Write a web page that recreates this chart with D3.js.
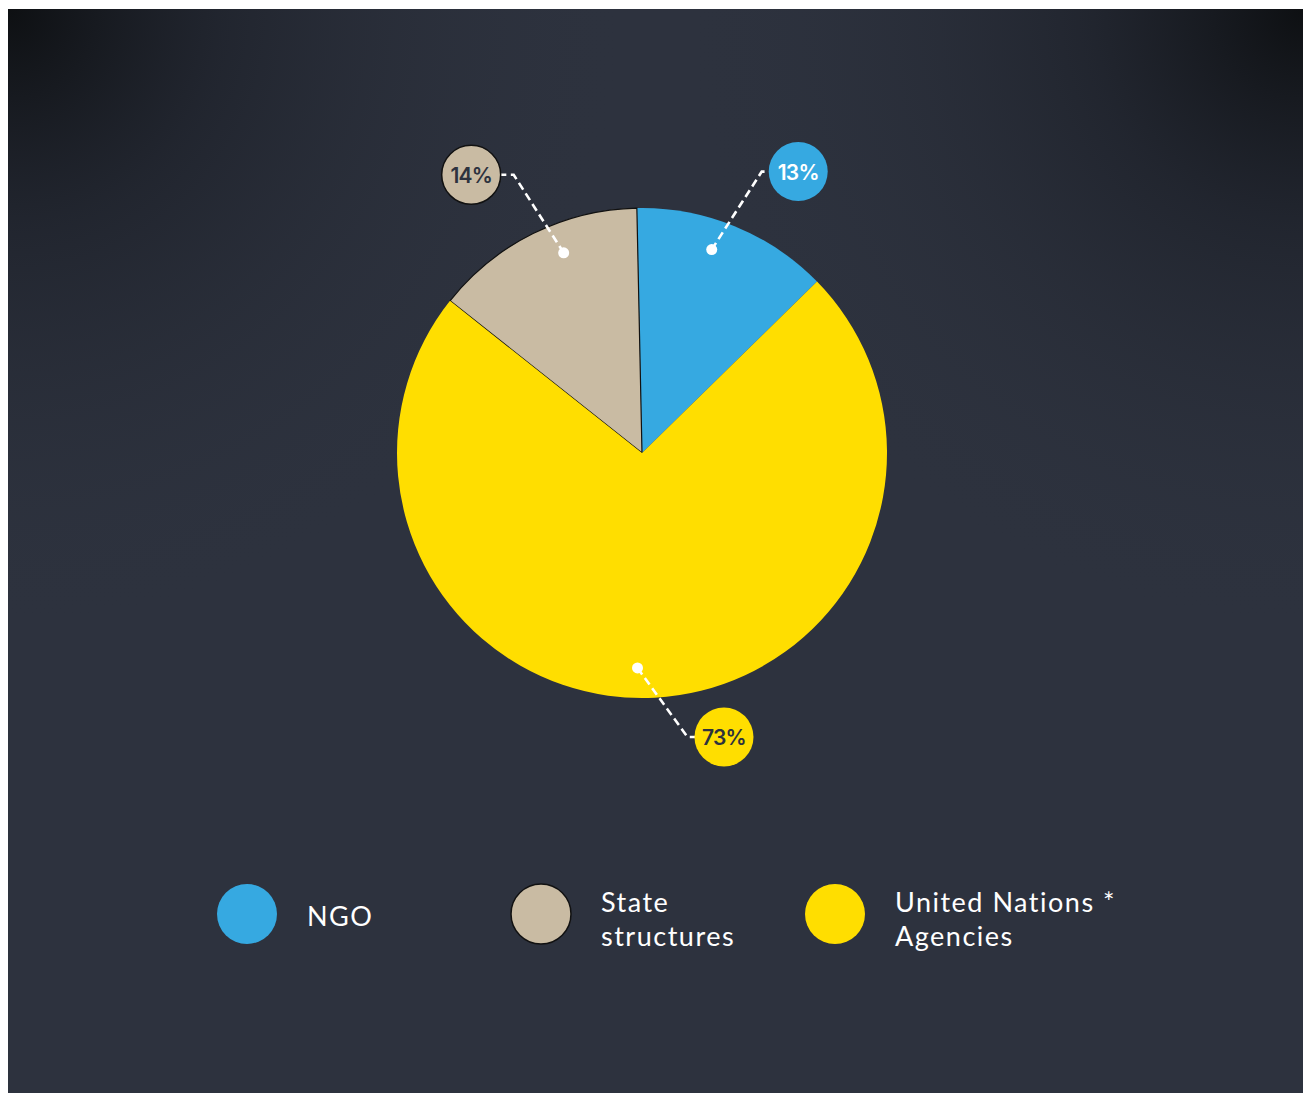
<!DOCTYPE html>
<html lang="en">
<head>
<meta charset="utf-8">
<script src="https://cdn.jsdelivr.net/npm/d3@7"></script>
<style>
  body { margin: 0; background: #fff; }
  svg { display: block; }
</style>
</head>
<body>
<script>
// data, in legend order
var categories = ["NGO", "State structures", "United Nations * Agencies"];
var shares = [13, 14, 73];
var legendLines = [["NGO"], ["State", "structures"], ["United Nations *", "Agencies"]];
var colours = ["#36a9e1", "#c9bba3", "#ffde00"];
var labelInk = ["#ffffff", "#2d323e", "#2d323e"];
var pieOrder = [0, 2, 1]; // clockwise from top: NGO, UN, State

var W = 1303, H = 1093;
var cx = 642, cy = 453, R = 245;
var startAng = -0.021;
var anchorFrac = [0.43, 0.6, 0.516]; // where the leader dot sits inside each slice
var tailLen = [7, 13, 7];            // horizontal bit of each leader

var svg = d3.select("body").append("svg").attr("width", W).attr("height", H);
var defs = svg.append("defs");

// background panel with darker top corners
function corner(id, x, y) {
  var g = defs.append("radialGradient").attr("id", id)
    .attr("gradientUnits", "userSpaceOnUse")
    .attr("cx", x).attr("cy", y).attr("r", 620);
  g.append("stop").attr("offset", "0").attr("stop-color", "#0c0e10").attr("stop-opacity", 0.95);
  g.append("stop").attr("offset", "0.35").attr("stop-color", "#161920").attr("stop-opacity", 0.5);
  g.append("stop").attr("offset", "1").attr("stop-color", "#2d323e").attr("stop-opacity", 0);
}
corner("cTL", 8, 9);
corner("cTR", 1303, 9);

svg.append("rect").attr("x", 8).attr("y", 9).attr("width", W - 8).attr("height", H - 9).attr("fill", "#2d323e");
svg.append("rect").attr("x", 8).attr("y", 9).attr("width", W - 8).attr("height", H - 9).attr("fill", "url(#cTL)");
svg.append("rect").attr("x", 8).attr("y", 9).attr("width", W - 8).attr("height", H - 9).attr("fill", "url(#cTR)");

// pie
var idx = d3.range(categories.length);
var pie = d3.pie()
  .value(function(i) { return shares[i]; })
  .sort(function(a, b) { return pieOrder.indexOf(a) - pieOrder.indexOf(b); })
  .startAngle(startAng).endAngle(startAng + 2 * Math.PI);
var arcs = pie(idx);
var arc = d3.arc().innerRadius(0).outerRadius(R);

var g = svg.append("g").attr("transform", "translate(" + cx + "," + cy + ")");
g.selectAll("path.slice").data(arcs).enter().append("path")
  .attr("class", "slice")
  .attr("d", arc)
  .attr("fill", function(d) { return colours[d.data]; })
  .attr("stroke", function(d) { return d.data === 1 ? "#111" : "none"; })
  .attr("stroke-width", 1.2);

// leader lines + value bubbles
var rDot = 215, bubR = 29.5;
arcs.forEach(function(d) {
  var i = d.data;
  var a = d.startAngle + (d.endAngle - d.startAngle) * anchorFrac[i];
  var mid = (d.startAngle + d.endAngle) / 2;
  var sx = Math.sin(mid) >= 0 ? 1 : -1;
  var sy = Math.cos(mid) >= 0 ? -1 : 1;
  var px = rDot * Math.sin(a), py = -rDot * Math.cos(a);
  var ex = px + sx * 50, ey = py + sy * (sy < 0 ? 78 : 69);
  var bx = ex + sx * (tailLen[i] + bubR);
  g.append("path")
    .attr("d", d3.line()([[px, py], [ex, ey], [ex + sx * (tailLen[i] + 1), ey]]))
    .attr("fill", "none").attr("stroke", "#fff")
    .attr("stroke-width", 2.6).attr("stroke-dasharray", "8,4.5");
  g.append("circle").attr("cx", px).attr("cy", py).attr("r", 5.5).attr("fill", "#fff");
  g.append("circle").attr("cx", bx).attr("cy", ey).attr("r", bubR)
    .attr("fill", colours[i])
    .attr("stroke", i === 1 ? "#111" : "none").attr("stroke-width", 1.5);
  g.append("text").attr("x", bx).attr("y", ey + 1)
    .attr("text-anchor", "middle").attr("dominant-baseline", "central")
    .attr("font-family", "Inter, 'Noto Sans', sans-serif")
    .attr("font-weight", 600).attr("font-size", 21)
    .attr("letter-spacing", -0.8)
    .attr("fill", labelInk[i])
    .text(shares[i] + "%");
});

// legend
var legX = d3.scalePoint().domain(idx).range([247, 835]);
var legY = 914;
var leg = svg.selectAll("g.leg").data(idx).enter().append("g")
  .attr("class", "leg")
  .attr("transform", function(i) { return "translate(" + legX(i) + "," + legY + ")"; });
leg.append("circle").attr("r", 30)
  .attr("fill", function(i) { return colours[i]; })
  .attr("stroke", function(i) { return i === 1 ? "#111" : "none"; })
  .attr("stroke-width", 1.5);
leg.each(function(i) {
  var lines = legendLines[i];
  var t = d3.select(this).append("text")
    .attr("x", 60)
    .attr("font-family", "Lato, 'Open Sans', sans-serif")
    .attr("font-size", 27)
    .attr("letter-spacing", 1.5)
    .attr("fill", "#fff");
  var y0 = lines.length === 1 ? 12 : -2;
  lines.forEach(function(s, k) {
    t.append("tspan").attr("x", 60).attr("y", y0 + k * 34).text(s);
  });
});
</script>
</body>
</html>
